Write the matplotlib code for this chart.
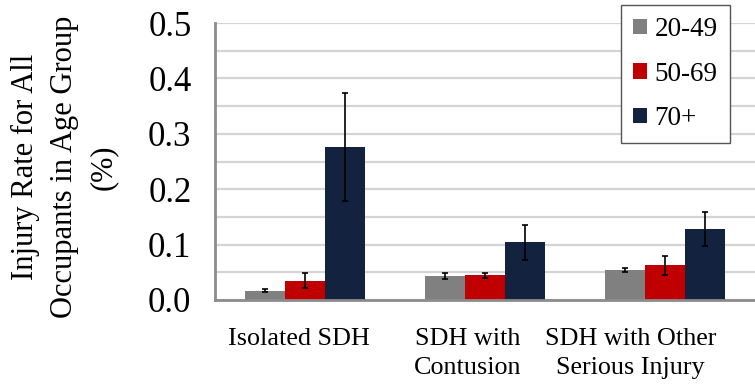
import numpy as np
import matplotlib.pyplot as plt

plt.rcParams['font.family'] = ['Liberation Serif', 'DejaVu Serif']

categories = ['Isolated SDH', 'SDH with\nContusion', 'SDH with Other\nSerious Injury']
age_groups = ['20-49', '50-69', '70+']
rates = {
    '20-49': [0.017, 0.043, 0.054],
    '50-69': [0.035, 0.0445, 0.0625],
    '70+': [0.276, 0.104, 0.128],
}
errors = {
    '20-49': [0.003, 0.005, 0.003],
    '50-69': [0.013, 0.004, 0.017],
    '70+': [0.098, 0.031, 0.030],
}
colors = {'20-49': '#808080', '50-69': '#c00000', '70+': '#13233f'}

fig = plt.figure(figsize=(7.55, 3.87), dpi=100)
ax = fig.add_axes([215 / 755, 87 / 387, 540 / 755, 277 / 387])

x = np.arange(len(categories))
w = 0.223
for i, g in enumerate(age_groups):
    ax.bar(x + (i - 1) * w, rates[g], w, color=colors[g], label=g, zorder=2,
           yerr=errors[g], error_kw=dict(ecolor='black', elinewidth=1.2,
                                         capsize=2.2, capthick=1.2))

ax.set_xlim(-0.5, 2.5)
ax.set_ylim(0, 0.5)
ax.set_yticks(np.arange(0, 0.51, 0.1))
ax.set_yticklabels(['0.0', '0.1', '0.2', '0.3', '0.4', '0.5'])
ax.set_yticks(np.arange(0, 0.51, 0.05), minor=True)
ax.grid(axis='y', which='both', color='#d4d4d4', linewidth=1.6, zorder=0)
ax.set_axisbelow(True)
ax.tick_params(axis='y', which='both', length=0, labelsize=25, pad=17)
ax.set_xticks([])

# category names sit a little left of the bar groups
label_x = [-0.033, 0.905, 1.81]
for xi, name in zip(label_x, categories):
    ax.text(xi, -0.1, name, transform=ax.get_xaxis_transform(),
            ha='center', va='top', fontsize=18.8, linespacing=1.42)

for s in ['top', 'right']:
    ax.spines[s].set_visible(False)
for s in ['left', 'bottom']:
    ax.spines[s].set_color('#8c8c8c')
    ax.spines[s].set_linewidth(2)

ax.set_ylabel('Injury Rate for All\nOccupants in Age Group\n(%)', fontsize=22,
              linespacing=1.45)
ax.yaxis.set_label_coords(-0.18, 0.48)

leg = ax.legend(loc='upper right', bbox_to_anchor=(0.9537, 1.065),
                borderaxespad=0, fontsize=19.5, frameon=True, fancybox=False,
                handlelength=0.52, handleheight=0.52, handletextpad=0.27,
                labelspacing=0.72, borderpad=0.45)
leg.get_frame().set_edgecolor('#555555')
leg.get_frame().set_linewidth(1)
leg.get_frame().set_alpha(1)

fig.savefig('out.png', dpi=100)
